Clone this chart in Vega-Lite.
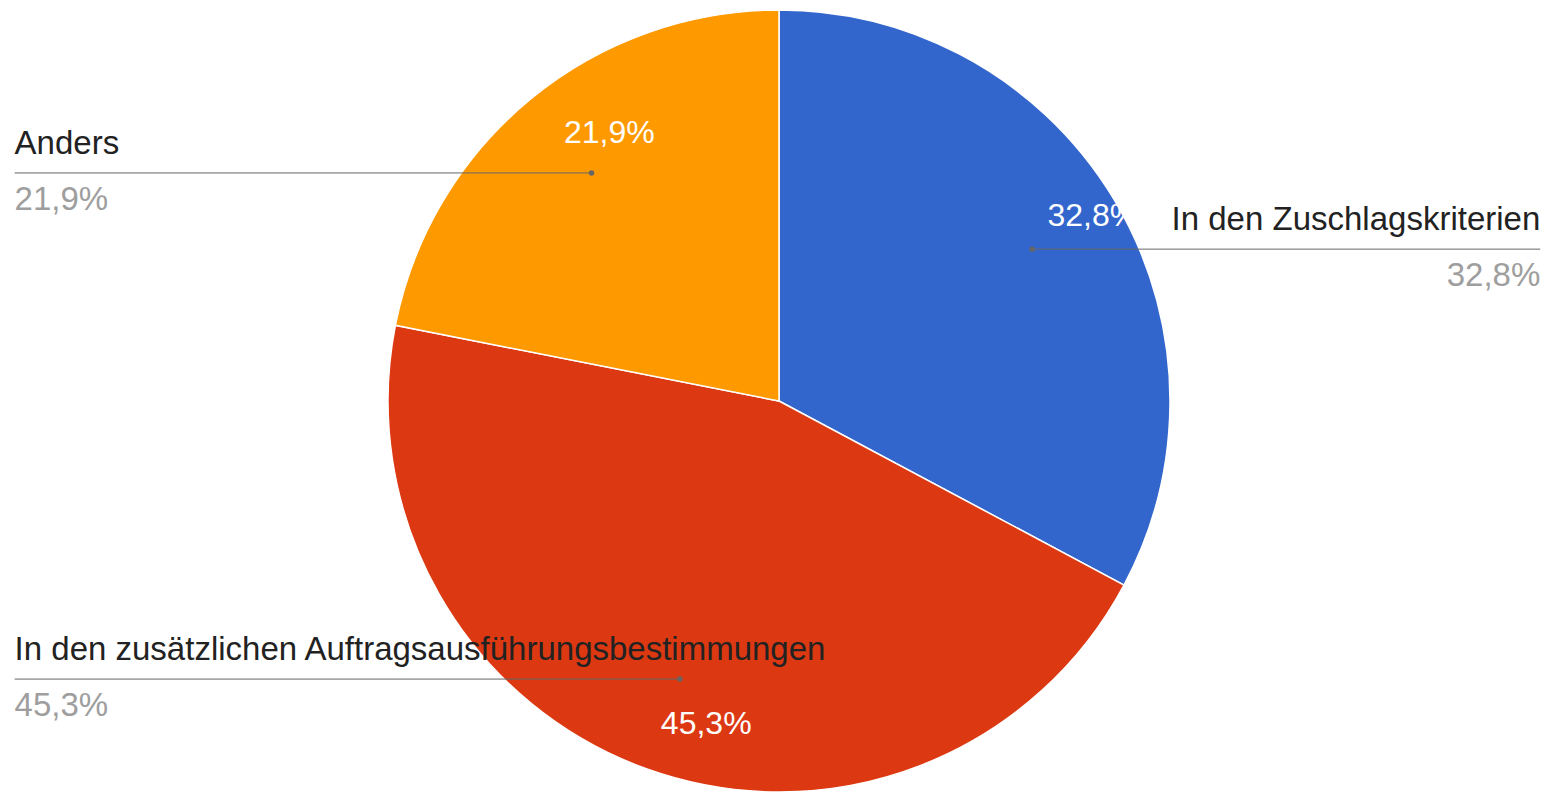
{
  "$schema": "https://vega.github.io/schema/vega-lite/v6.json",
  "width": 1542,
  "height": 782,
  "padding": {"left": 8, "top": 10, "right": 0, "bottom": 0},
  "autosize": {"type": "none"},
  "background": "white",
  "config": {"view": {"stroke": null}, "font": "Liberation Sans"},
  "data": {
    "values": [
      {"Kategorie": "In den Zuschlagskriterien", "Anteil": 32.8, "Reihenfolge": 1},
      {"Kategorie": "In den zusätzlichen Auftragsausführungsbestimmungen", "Anteil": 45.3, "Reihenfolge": 2},
      {"Kategorie": "Anders", "Anteil": 21.9, "Reihenfolge": 3}
    ]
  },
  "transform": [
    {"window": [{"op": "sum", "field": "Anteil", "as": "kum"}], "sort": [{"field": "Reihenfolge"}], "frame": [null, 0]},
    {"joinaggregate": [{"op": "sum", "field": "Anteil", "as": "gesamt"}]},
    {"calculate": "2*PI*(datum.kum - datum.Anteil/2)/datum.gesamt", "as": "winkel"},
    {"calculate": "0.755*sin(datum.winkel)", "as": "px"},
    {"calculate": "0.755*cos(datum.winkel)", "as": "py"},
    {"calculate": "datum.px > 0 ? 1.947 : -1.955", "as": "ex"},
    {"calculate": "replace(format(datum.Anteil, '.1f'), '.', ',') + '%'", "as": "pct"}
  ],
  "layer": [
    {
      "mark": {"type": "arc", "radius": 391, "stroke": "white", "strokeWidth": 1.5},
      "encoding": {
        "theta": {"field": "Anteil", "type": "quantitative", "stack": true},
        "order": {"field": "Reihenfolge", "type": "quantitative"},
        "color": {
          "field": "Kategorie",
          "type": "nominal",
          "scale": {
            "domain": ["In den Zuschlagskriterien", "In den zusätzlichen Auftragsausführungsbestimmungen", "Anders"],
            "range": ["#3366cc", "#dc3912", "#ff9900"]
          },
          "legend": null
        }
      }
    },
    {
      "mark": {
        "type": "text",
        "radius": 324,
        "fontSize": 32,
        "color": "white",
        "baseline": "middle",
        "align": "center",
        "dx": 36,
        "dy": {"expr": "datum.py > 0 ? -18 : 18"}
      },
      "encoding": {
        "theta": {"field": "Anteil", "type": "quantitative", "stack": true},
        "order": {"field": "Reihenfolge", "type": "quantitative"},
        "text": {"field": "pct", "type": "nominal"}
      }
    },
    {
      "mark": {"type": "rule", "color": "#666666", "strokeWidth": 1},
      "encoding": {
        "x": {"field": "px", "type": "quantitative", "scale": {"domain": [-1.97187, 1.97187], "nice": false, "zero": false}, "axis": null},
        "x2": {"field": "ex"},
        "y": {"field": "py", "type": "quantitative", "scale": {"domain": [-1, 1], "nice": false, "zero": false}, "axis": null}
      }
    },
    {
      "mark": {"type": "point", "filled": true, "size": 30, "color": "#666666", "opacity": 1},
      "encoding": {
        "x": {"field": "px", "type": "quantitative"},
        "y": {"field": "py", "type": "quantitative"}
      }
    },
    {
      "transform": [{"filter": "datum.ex < 0"}],
      "mark": {"type": "text", "align": "left", "baseline": "alphabetic", "dy": -19, "fontSize": 33, "color": "#222222"},
      "encoding": {
        "x": {"field": "ex", "type": "quantitative"},
        "y": {"field": "py", "type": "quantitative"},
        "text": {"field": "Kategorie", "type": "nominal"}
      }
    },
    {
      "transform": [{"filter": "datum.ex > 0"}],
      "mark": {"type": "text", "align": "right", "baseline": "alphabetic", "dy": -19, "fontSize": 33, "color": "#222222"},
      "encoding": {
        "x": {"field": "ex", "type": "quantitative"},
        "y": {"field": "py", "type": "quantitative"},
        "text": {"field": "Kategorie", "type": "nominal"}
      }
    },
    {
      "transform": [{"filter": "datum.ex < 0"}],
      "mark": {"type": "text", "align": "left", "baseline": "alphabetic", "dy": 37, "fontSize": 33, "color": "#9e9e9e"},
      "encoding": {
        "x": {"field": "ex", "type": "quantitative"},
        "y": {"field": "py", "type": "quantitative"},
        "text": {"field": "pct", "type": "nominal"}
      }
    },
    {
      "transform": [{"filter": "datum.ex > 0"}],
      "mark": {"type": "text", "align": "right", "baseline": "alphabetic", "dy": 37, "fontSize": 33, "color": "#9e9e9e"},
      "encoding": {
        "x": {"field": "ex", "type": "quantitative"},
        "y": {"field": "py", "type": "quantitative"},
        "text": {"field": "pct", "type": "nominal"}
      }
    }
  ]
}
